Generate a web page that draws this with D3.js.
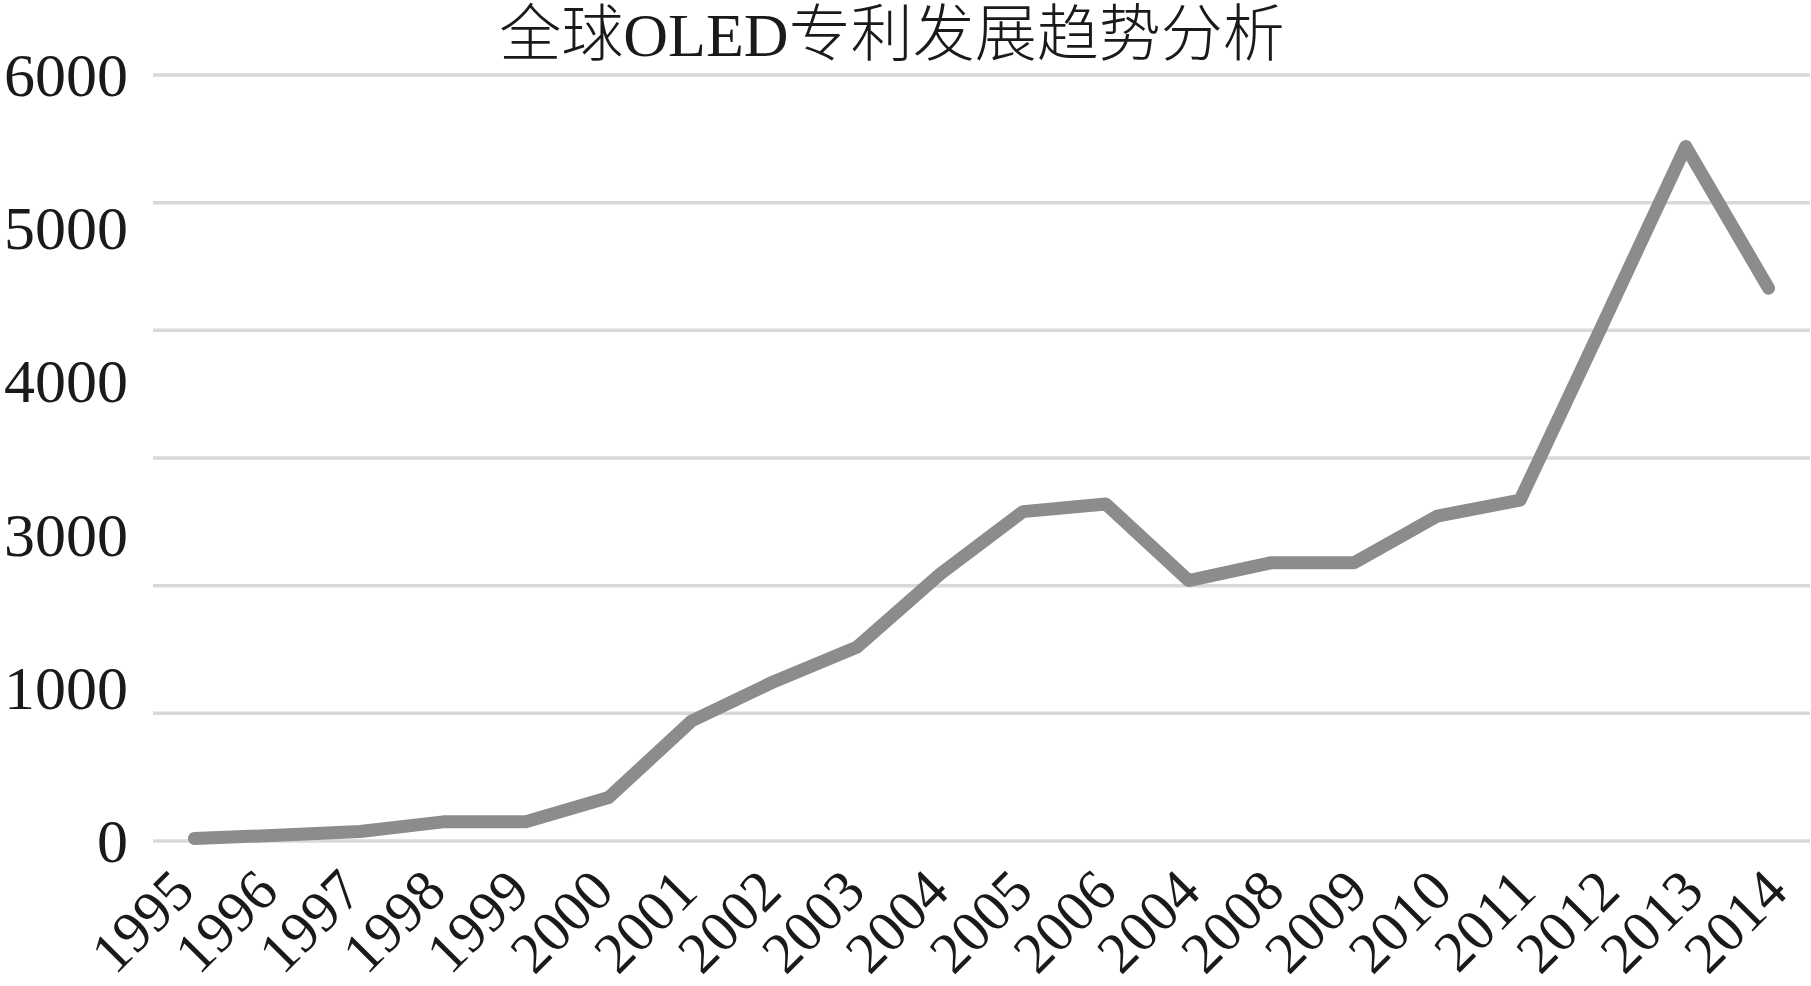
<!DOCTYPE html>
<html>
<head>
<meta charset="utf-8">
<script src="https://cdn.jsdelivr.net/npm/d3@7"></script>
<style>
  html, body { margin: 0; padding: 0; background: #fff; }
  svg { display: block; }
</style>
</head>
<body>
<svg id="chart" width="1811" height="986"></svg>
<script>
const title = "全球OLED专利发展趋势分析";
const categories = ["1995","1996","1997","1998","1999","2000","2001","2002","2003","2004",
                    "2005","2006","2004","2008","2009","2010","2011","2012","2013","2014"];
const values = [20, 45, 75, 150, 150, 340, 940, 1250, 1520, 2090,
                2580, 2640, 2040, 2180, 2180, 2545, 2670, 4050, 5440, 4330];
const gridValues = [0, 1000, 2000, 3000, 4000, 5000, 6000];
const yTickLabels = ["6000", "5000", "4000", "3000", "1000", "0"];
const yMax = 6000;

const svg = d3.select("#chart");
const serif = "'Liberation Serif', 'Times New Roman', serif";

const idx = d3.range(categories.length);
const x = d3.scaleBand().domain(idx).range([153, 1810]).padding(0);
const xLab = d3.scalePoint().domain(idx).range([197, 1790]);
const y = d3.scaleLinear().domain([0, yMax]).range([841, 75]);

// gridlines
svg.append("g").selectAll("line").data(gridValues).join("line")
  .attr("x1", 153).attr("x2", 1810)
  .attr("y1", d => y(d)).attr("y2", d => y(d))
  .attr("stroke", "#d9d9d9").attr("stroke-width", 3.5);

// y labels (evenly spread along the axis as in the source)
svg.append("g").selectAll("text").data(yTickLabels).join("text")
  .attr("x", 128)
  .attr("y", (d, i) => y(yMax * (1 - i / (yTickLabels.length - 1))) + 21)
  .attr("text-anchor", "end")
  .attr("font-family", serif).attr("font-size", 62).attr("fill", "#1a1a1a")
  .text(d => d);

// x labels
svg.append("g").selectAll("text").data(idx).join("text")
  .attr("transform", i => `translate(${xLab(i)},894) rotate(-45)`)
  .attr("text-anchor", "end")
  .attr("font-family", serif).attr("font-size", 58).attr("fill", "#1a1a1a")
  .text(i => categories[i]);

// line
const line = d3.line().x(i => x(i) + x.bandwidth() / 2).y(i => y(values[i]));
svg.append("path").datum(idx)
  .attr("d", line)
  .attr("fill", "none").attr("stroke", "#8c8c8c").attr("stroke-width", 13)
  .attr("stroke-linejoin", "round").attr("stroke-linecap", "round");

// title
svg.append("text")
  .attr("x", 892).attr("y", 56)
  .attr("text-anchor", "middle")
  .attr("font-family", "'Liberation Serif', 'Noto Sans CJK SC', serif")
  .attr("font-weight", 300)
  .attr("font-size", 62).attr("fill", "#1a1a1a")
  .text(title);
</script>
</body>
</html>
